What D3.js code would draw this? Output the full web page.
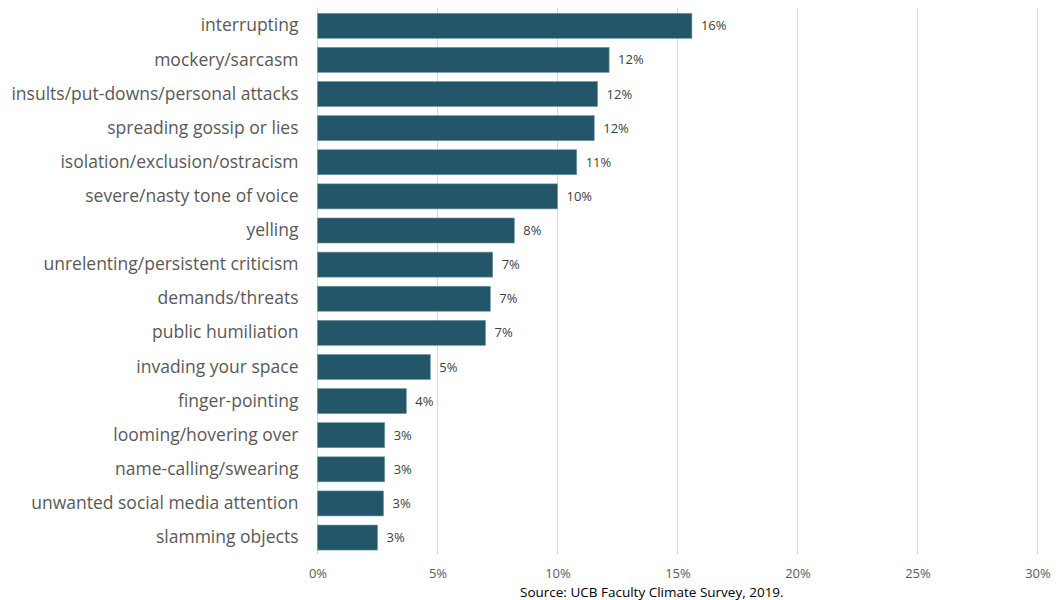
<!DOCTYPE html>
<html><head><meta charset="utf-8">
<script src="https://cdn.jsdelivr.net/npm/d3@7"></script>
<style>body{margin:0;background:#fff}svg{display:block}</style>
</head><body>
<svg id="c" width="1060" height="600"></svg>
<script>
const categories = ["interrupting","mockery/sarcasm","insults/put-downs/personal attacks","spreading gossip or lies","isolation/exclusion/ostracism","severe/nasty tone of voice","yelling","unrelenting/persistent criticism","demands/threats","public humiliation","invading your space","finger-pointing","looming/hovering over","name-calling/swearing","unwanted social media attention","slamming objects"];
const values = [15.6,12.15,11.67,11.53,10.8,10.0,8.2,7.3,7.2,7.0,4.7,3.7,2.8,2.8,2.75,2.5];
const valueLabels = ["16%","12%","12%","12%","11%","10%","8%","7%","7%","7%","5%","4%","3%","3%","3%","3%"];
const ticks = [0,5,10,15,20,25,30];
const source = "Source: UCB Faculty Climate Survey, 2019.";

const svg = d3.select("#c");
const x = d3.scaleLinear().domain([0,30]).range([317.5,1037.5]);
const y = d3.scaleBand().domain(categories).range([8.75,554.6]).paddingInner(0.267).paddingOuter(0.133);
const font = "'Open Sans', sans-serif";

// gridlines
svg.append("g").selectAll("line").data(ticks).join("line")
  .attr("x1",d=>x(d)).attr("x2",d=>x(d)).attr("y1",8).attr("y2",554)
  .attr("stroke","#d9d9d9").attr("stroke-width",1);

// x axis labels
const xa = svg.append("g").attr("transform","translate(0,574)")
  .call(d3.axisBottom(x).tickValues(ticks).tickFormat(d=>d+"%").tickSize(0).tickPadding(0));
xa.select(".domain").remove();
xa.selectAll("text").attr("font-family",font).attr("font-size",13).attr("fill","#595959").attr("dy","0.32em");

// bars
svg.append("g").selectAll("rect").data(categories).join("rect")
  .attr("x",x(0)).attr("y",d=>y(d)).attr("height",y.bandwidth())
  .attr("width",(d,i)=>x(values[i])-x(0))
  .attr("fill","#235669").attr("stroke","#6f96a8").attr("stroke-width",0.6);

// value labels
svg.append("g").selectAll("text").data(categories).join("text")
  .attr("x",(d,i)=>x(values[i])+9).attr("y",d=>y(d)+y.bandwidth()/2)
  .attr("dy","0.35em").attr("font-family",font).attr("font-size",13).attr("fill","#404040")
  .text((d,i)=>valueLabels[i]);

// category labels
const ya = svg.append("g").attr("transform",`translate(${x(0)},0)`)
  .call(d3.axisLeft(y).tickSize(0).tickPadding(19));
ya.select(".domain").remove();
ya.selectAll("text").attr("font-family",font).attr("font-size",17.5).attr("fill","#595959");

svg.append("text").attr("x",520).attr("y",597).attr("font-family",font).attr("font-size",13.5)
  .attr("fill","#000").text(source);
</script>
</body></html>
